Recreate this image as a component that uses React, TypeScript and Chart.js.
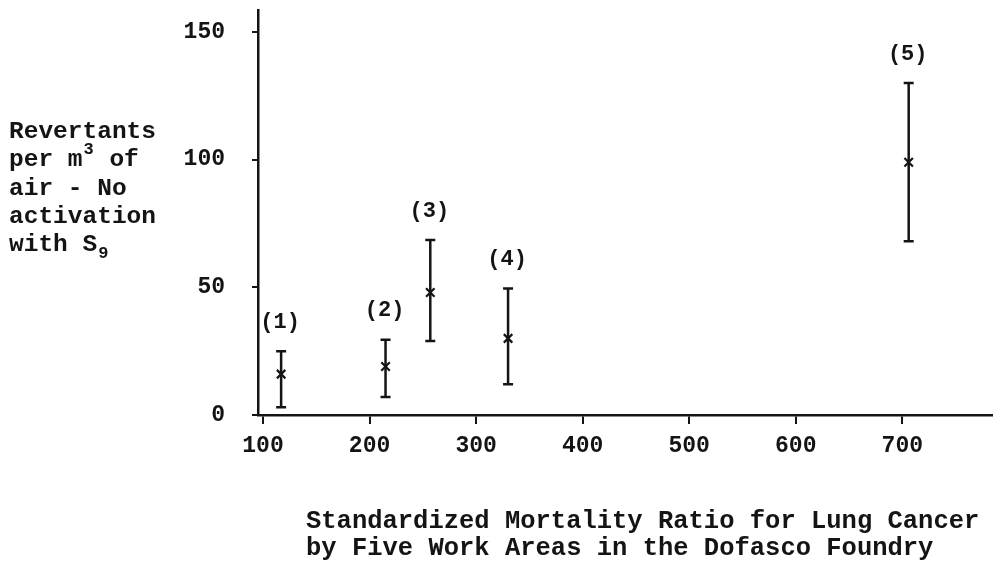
import React, { useEffect, useRef } from "react";
import { Chart, registerables } from "chart.js";

Chart.register(...registerables);

// ---- data ----
const areaLabels = ["(1)", "(2)", "(3)", "(4)", "(5)"];
const smr = [117, 215, 257, 330, 706];
const revertants = [16, 19, 48, 30, 99];
const lowValues = [3, 7, 29, 12, 68];
const highValues = [25, 29.5, 68.5, 49.5, 130];
const xTicks = [100, 200, 300, 400, 500, 600, 700];
const yTicks = [0, 50, 100, 150];

type Seg = { t: string; k?: "sup" | "sub" };
const yTitleLines: Seg[][] = [
  [{ t: "Revertants" }],
  [{ t: "per m" }, { t: "3", k: "sup" }, { t: " of" }],
  [{ t: "air - No" }],
  [{ t: "activation" }],
  [{ t: "with S" }, { t: "9", k: "sub" }],
];
const xTitleLines = [
  "Standardized Mortality Ratio for Lung Cancer",
  "by Five Work Areas in the Dofasco Foundry",
];

const FONT = "'Liberation Mono', 'DejaVu Sans Mono', monospace";
const INK = "#141414";

const errorBarPlugin = {
  id: "errorBars",
  afterDatasetsDraw(chart: any) {
    const { ctx } = chart;
    const xs = chart.scales.x;
    const ys = chart.scales.y;
    ctx.save();
    ctx.strokeStyle = INK;
    ctx.fillStyle = INK;
    ctx.lineWidth = 2.5;
    ctx.font = `bold 22px ${FONT}`;
    ctx.textAlign = "center";
    ctx.textBaseline = "middle";
    smr.forEach((v, i) => {
      const px = xs.getPixelForValue(v);
      const pl = ys.getPixelForValue(lowValues[i]);
      const ph = ys.getPixelForValue(highValues[i]);
      ctx.beginPath();
      ctx.moveTo(px, ph);
      ctx.lineTo(px, pl);
      ctx.moveTo(px - 5, ph);
      ctx.lineTo(px + 5, ph);
      ctx.moveTo(px - 5, pl);
      ctx.lineTo(px + 5, pl);
      ctx.stroke();
      ctx.fillText(areaLabels[i], px - 1, ph - 29);
    });
    ctx.restore();
  },
};

const titlesPlugin = {
  id: "titles",
  afterDraw(chart: any) {
    const { ctx } = chart;
    ctx.save();
    ctx.fillStyle = INK;
    ctx.textAlign = "left";
    ctx.textBaseline = "middle";
    // y title block
    yTitleLines.forEach((line, li) => {
      let x = 9;
      const y = 132 + li * 28.2;
      line.forEach((seg) => {
        if (seg.k) {
          ctx.font = `bold 17px ${FONT}`;
          const dy = seg.k === "sup" ? -10 : 9;
          ctx.fillText(seg.t, x + 1, y + dy);
          x += ctx.measureText(seg.t).width + 2;
        } else {
          ctx.font = `bold 24.5px ${FONT}`;
          ctx.fillText(seg.t, x, y);
          x += ctx.measureText(seg.t).width;
        }
      });
    });
    // x title block
    ctx.font = `bold 25.5px ${FONT}`;
    xTitleLines.forEach((line, li) => {
      ctx.fillText(line, 306, 522 + li * 27);
    });
    ctx.restore();
  },
};

export default function App() {
  const canvasRef = useRef<HTMLCanvasElement | null>(null);

  useEffect(() => {
    document.body.style.margin = "0";
    const canvas = canvasRef.current;
    if (!canvas) return;
    const chart = new Chart(canvas, {
      type: "scatter",
      data: {
        datasets: [
          {
            data: smr.map((x, i) => ({ x, y: revertants[i] })),
            pointStyle: "crossRot",
            pointRadius: 6,
            pointBorderWidth: 2.2,
            borderColor: INK,
            backgroundColor: INK,
          },
        ],
      },
      options: {
        responsive: false,
        animation: false,
        events: [],
        layout: { padding: { left: 0, top: 10, right: 5, bottom: 0 } },
        plugins: {
          legend: { display: false },
          tooltip: { enabled: false },
          title: { display: false },
        },
        scales: {
          x: {
            type: "linear",
            min: 95.3,
            max: 784,
            afterBuildTicks: (s: any) => {
              s.ticks = xTicks.map((value) => ({ value }));
            },
            afterFit: (s: any) => {
              s.height = 150;
              s.paddingLeft = 0;
              s.paddingRight = 0;
            },
            grid: {
              display: true,
              drawOnChartArea: false,
              drawTicks: true,
              tickLength: 9,
              color: INK,
              lineWidth: 2,
            },
            border: { display: true, color: INK, width: 2.5 },
            ticks: {
              font: { family: FONT, size: 23, weight: "bold" },
              color: INK,
              padding: 8,
              maxRotation: 0,
              autoSkip: false,
            },
          },
          y: {
            type: "linear",
            min: 0,
            max: 158.6,
            afterBuildTicks: (s: any) => {
              s.ticks = yTicks.map((value) => ({ value }));
            },
            afterFit: (s: any) => {
              s.width = 258;
              s.paddingTop = 0;
              s.paddingBottom = 0;
            },
            grid: {
              display: true,
              drawOnChartArea: false,
              drawTicks: true,
              tickLength: 6,
              color: INK,
              lineWidth: 2,
            },
            border: { display: true, color: INK, width: 2.5 },
            ticks: {
              font: { family: FONT, size: 23, weight: "bold" },
              color: INK,
              padding: 27,
              autoSkip: false,
            },
          },
        },
      },
      plugins: [errorBarPlugin, titlesPlugin],
    });
    return () => chart.destroy();
  }, []);

  return (
    <div style={{ width: 1000, height: 565, background: "#fff" }}>
      <canvas ref={canvasRef} width={1000} height={565} style={{ display: "block" }} />
    </div>
  );
}
